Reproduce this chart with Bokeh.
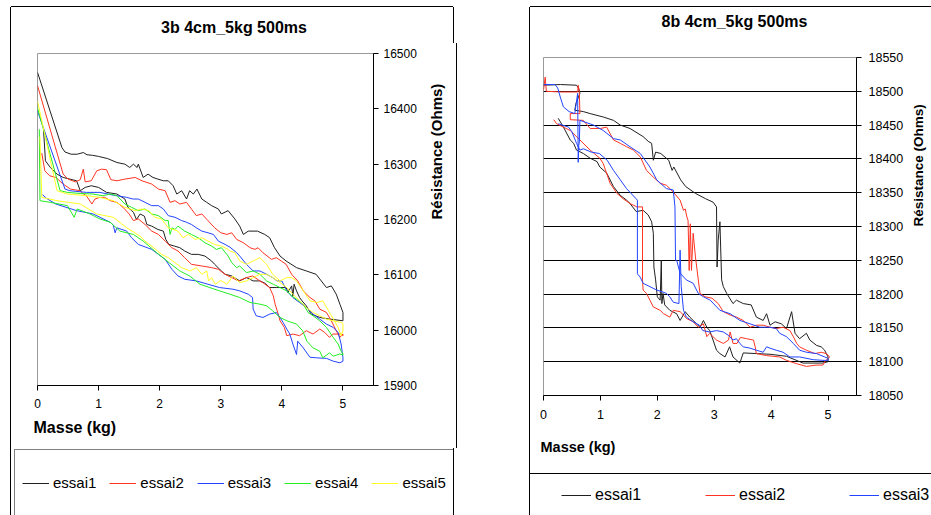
import math
from bokeh.plotting import figure
from bokeh.models import Range1d, FixedTicker, Legend, Spacer, ColumnDataSource, Title, Label
from bokeh.layouts import row, column
from bokeh.embed import file_html
from bokeh.resources import INLINE

FONT = "Liberation Sans"

# ---------------- axes / labels ----------------
masse_ticks = [0, 1, 2, 3, 4, 5]
res_ticks_3b = [15900, 16000, 16100, 16200, 16300, 16400, 16500]
res_ticks_8b = [18050, 18100, 18150, 18200, 18250, 18300, 18350, 18400, 18450, 18500, 18550]
grid_8b = [18100, 18150, 18200, 18250, 18300, 18350, 18400, 18450, 18500]
names_3b = ["essai1", "essai2", "essai3", "essai4", "essai5"]
names_8b = ["essai1", "essai2", "essai3"]
colors = ["#202020", "#FF3322", "#2244FF", "#22EE22", "#FFFF22"]
title_3b = "3b 4cm_5kg 500ms"
title_8b = "8b 4cm_5kg 500ms"
x_title = "Masse (kg)"
y_title = "Résistance (Ohms)"

# ---------------- 3b 4cm_5kg 500ms : (masse kg, résistance ohms), charge puis décharge ----------------
b3_essai1 = [(0, 16466), (0.4, 16330), (0.45, 16322), (0.55, 16318), (0.65, 16318), (0.75, 16321), (0.81, 16317),
             (0.9, 16316), (1.0, 16314), (1.15, 16310), (1.3, 16303), (1.43, 16300), (1.51, 16294), (1.57, 16300),
             (1.63, 16294), (1.65, 16300), (1.73, 16276), (1.81, 16282), (1.89, 16276), (1.97, 16273), (2.06, 16270),
             (2.14, 16270), (2.22, 16261), (2.28, 16246), (2.36, 16252), (2.44, 16237), (2.49, 16252), (2.55, 16246),
             (2.61, 16255), (2.69, 16237), (2.77, 16231), (2.85, 16225), (2.96, 16219), (3.01, 16210), (3.12, 16216),
             (3.23, 16201), (3.31, 16188), (3.37, 16173), (3.45, 16179), (3.6, 16179), (3.72, 16173), (3.8, 16167),
             (3.88, 16149), (3.97, 16134), (4.07, 16125), (4.24, 16113), (4.4, 16107), (4.56, 16101), (4.73, 16077),
             (4.81, 16080), (4.89, 16065), (4.95, 16047), (5.0, 16032),
             (5.0, 16017), (4.78, 16020), (4.62, 16023), (4.48, 16029), (4.4, 16044), (4.33, 16053), (4.29, 16059),
             (4.24, 16071), (4.2, 16083), (4.18, 16062), (4.16, 16080), (4.1, 16068), (4.07, 16077), (3.91, 16077),
             (3.8, 16077), (3.72, 16085), (3.64, 16089), (3.53, 16089), (3.42, 16095), (3.31, 16089), (3.18, 16098),
             (3.07, 16101), (3.01, 16107), (2.9, 16119), (2.85, 16125), (2.74, 16134), (2.63, 16137), (2.52, 16137),
             (2.41, 16143), (2.33, 16149), (2.24, 16152), (2.15, 16155), (2.1, 16164), (2.06, 16179), (1.97, 16182),
             (1.87, 16188), (1.79, 16191), (1.75, 16206), (1.68, 16210), (1.62, 16200), (1.57, 16213), (1.54, 16216),
             (1.48, 16222), (1.43, 16237), (1.3, 16246), (1.13, 16249), (1.0, 16258), (0.88, 16261), (0.78, 16258),
             (0.7, 16252), (0.64, 16270), (0.42, 16276), (0.32, 16282), (0.21, 16294), (0.13, 16306), (0.1, 16360)]

b3_essai2 = [(0, 16442), (0.42, 16282), (0.5, 16273), (0.62, 16268), (0.7, 16272), (0.75, 16291), (0.78, 16268),
             (0.88, 16270), (0.97, 16288), (1.05, 16291), (1.13, 16290), (1.2, 16272), (1.3, 16270), (1.43, 16273),
             (1.6, 16276), (1.71, 16270), (1.87, 16264), (1.98, 16255), (2.09, 16252), (2.17, 16231), (2.25, 16234),
             (2.33, 16228), (2.44, 16231), (2.52, 16219), (2.6, 16207), (2.69, 16210), (2.79, 16198), (2.9, 16185),
             (3.0, 16176), (3.1, 16173), (3.18, 16176), (3.26, 16164), (3.37, 16158), (3.48, 16149), (3.56, 16146),
             (3.61, 16149), (3.69, 16140), (3.83, 16128), (3.91, 16131), (3.99, 16125), (4.07, 16119), (4.16, 16101),
             (4.26, 16089), (4.35, 16071), (4.46, 16059), (4.54, 16053), (4.62, 16038), (4.73, 16032), (4.81, 16017),
             (4.89, 15999), (4.95, 15987), (5.0, 15993),
             (5.0, 15990), (4.97, 15993), (4.83, 15993), (4.78, 15987), (4.7, 15996), (4.62, 16002), (4.51, 15993),
             (4.4, 15999), (4.29, 15990), (4.18, 15993), (4.08, 15990), (4.04, 16005), (3.97, 16017), (3.94, 16029),
             (3.89, 16047), (3.86, 16062), (3.8, 16077), (3.7, 16085), (3.64, 16089), (3.52, 16098), (3.42, 16095),
             (3.29, 16089), (3.18, 16095), (3.07, 16101), (2.96, 16110), (2.85, 16113), (2.69, 16116), (2.52, 16119),
             (2.41, 16131), (2.3, 16143), (2.2, 16149), (2.09, 16161), (1.98, 16173), (1.87, 16179), (1.76, 16191),
             (1.65, 16201), (1.57, 16198), (1.5, 16210), (1.4, 16222), (1.3, 16231), (1.19, 16234), (1.1, 16240),
             (1.02, 16240), (0.94, 16237), (0.89, 16228), (0.8, 16243), (0.75, 16246), (0.7, 16252), (0.54, 16255),
             (0.42, 16264), (0.3, 16276), (0.2, 16279), (0.12, 16288), (0.07, 16320)]

b3_essai3 = [(0, 16396), (0.45, 16255), (0.53, 16252), (0.8, 16249), (1.02, 16249), (1.24, 16244), (1.46, 16240),
             (1.56, 16237), (1.65, 16237), (1.76, 16231), (1.87, 16225), (1.98, 16225), (2.06, 16219), (2.14, 16207),
             (2.25, 16204), (2.36, 16198), (2.44, 16195), (2.52, 16191), (2.6, 16185), (2.69, 16179), (2.79, 16176),
             (2.88, 16173), (2.96, 16161), (3.07, 16155), (3.15, 16150), (3.26, 16140), (3.31, 16134), (3.42, 16119),
             (3.53, 16107), (3.64, 16107), (3.75, 16101), (3.85, 16095), (3.92, 16089), (4.0, 16089), (4.08, 16071),
             (4.18, 16059), (4.29, 16050), (4.4, 16041), (4.51, 16029), (4.62, 16020), (4.73, 16011), (4.84, 16005),
             (4.92, 15996), (4.97, 15975), (5.0, 15950),
             (5.0, 15944), (4.95, 15941), (4.84, 15944), (4.73, 15949), (4.57, 15950), (4.46, 15951), (4.35, 15968),
             (4.26, 15980), (4.24, 15956), (4.18, 15975), (4.13, 15993), (4.08, 16002), (4.02, 16014), (3.97, 16023),
             (3.91, 16032), (3.8, 16029), (3.69, 16023), (3.58, 16026), (3.53, 16038), (3.52, 16059), (3.45, 16065),
             (3.31, 16071), (3.2, 16074), (2.98, 16077), (2.79, 16083), (2.6, 16089), (2.41, 16092), (2.3, 16098),
             (2.2, 16110), (2.09, 16128), (1.98, 16137), (1.87, 16146), (1.65, 16155), (1.54, 16167), (1.46, 16179),
             (1.3, 16185), (1.27, 16176), (1.24, 16190), (1.19, 16195), (0.91, 16210), (0.64, 16216), (0.3, 16228),
             (0.15, 16238), (0.08, 16245)]

b3_essai4 = [(0, 16402), (0.37, 16252), (0.49, 16249), (0.7, 16247), (0.91, 16246), (1.07, 16243), (1.19, 16246),
             (1.3, 16243), (1.43, 16228), (1.54, 16222), (1.65, 16216), (1.76, 16219), (1.87, 16210), (1.98, 16207),
             (2.09, 16198), (2.14, 16198), (2.17, 16173), (2.2, 16185), (2.25, 16182), (2.3, 16188), (2.41, 16179),
             (2.52, 16173), (2.63, 16167), (2.74, 16158), (2.85, 16152), (2.93, 16146), (3.01, 16149), (3.12, 16134),
             (3.18, 16122), (3.26, 16113), (3.31, 16116), (3.42, 16104), (3.53, 16107), (3.64, 16101), (3.75, 16089),
             (3.86, 16083), (3.97, 16077), (4.08, 16071), (4.16, 16062), (4.24, 16056), (4.35, 16047), (4.43, 16032),
             (4.51, 16026), (4.62, 16017), (4.73, 16005), (4.84, 15987), (4.92, 15975), (4.97, 15962), (5.0, 15957),
             (5.0, 15955), (4.95, 15957), (4.84, 15953), (4.78, 15959), (4.67, 15950), (4.62, 15962), (4.51, 15968),
             (4.41, 15980), (4.34, 15999), (4.24, 16011), (4.08, 16017), (3.97, 16023), (3.85, 16035), (3.75, 16044),
             (3.64, 16047), (3.48, 16050), (3.31, 16059), (3.15, 16065), (2.98, 16071), (2.82, 16077), (2.66, 16083),
             (2.49, 16098), (2.33, 16107), (2.12, 16125), (1.95, 16140), (1.73, 16161), (1.57, 16173), (1.35, 16179),
             (1.19, 16195), (1.02, 16201), (0.86, 16210), (0.65, 16219), (0.6, 16204), (0.49, 16225), (0.21, 16231),
             (0.04, 16234), (0.03, 16363)]

b3_essai5 = [(0, 16414), (0.32, 16252), (0.49, 16246), (0.81, 16243), (1.02, 16240), (1.24, 16234), (1.43, 16222),
             (1.6, 16216), (1.71, 16219), (1.82, 16216), (1.92, 16204), (2.03, 16201), (2.14, 16185), (2.3, 16179),
             (2.38, 16167), (2.47, 16173), (2.58, 16164), (2.69, 16167), (2.79, 16161), (2.9, 16155), (3.01, 16152),
             (3.12, 16146), (3.15, 16143), (3.23, 16140), (3.31, 16125), (3.42, 16119), (3.53, 16125), (3.64, 16131),
             (3.75, 16119), (3.85, 16101), (3.97, 16089), (4.08, 16095), (4.16, 16095), (4.24, 16089), (4.35, 16071),
             (4.46, 16053), (4.57, 16050), (4.67, 16053), (4.78, 16032), (4.86, 16017), (4.92, 16005), (4.97, 15990),
             (5.0, 15999),
             (5.0, 16012), (4.97, 16014), (4.84, 16017), (4.73, 16020), (4.62, 16026), (4.51, 16032), (4.4, 16041),
             (4.29, 16053), (4.18, 16065), (4.08, 16077), (3.97, 16086), (3.85, 16095), (3.75, 16101), (3.64, 16101),
             (3.53, 16095), (3.42, 16089), (3.31, 16086), (3.2, 16098), (3.1, 16083), (3.0, 16090), (2.91, 16083),
             (2.85, 16095), (2.8, 16089), (2.77, 16107), (2.69, 16101), (2.6, 16113), (2.5, 16107), (2.36, 16113),
             (2.25, 16122), (2.14, 16131), (2.03, 16137), (1.89, 16150), (1.76, 16161), (1.68, 16170), (1.46, 16185),
             (1.24, 16204), (0.97, 16210), (0.7, 16228), (0.32, 16234), (0.07, 16240), (0.04, 16350)]

# ---------------- 8b 4cm_5kg 500ms ----------------
b8_essai1 = [(0, 18509), (0.3, 18510), (0.58, 18509), (0.62, 18504), (0.64, 18497), (0.57, 18482), (0.55, 18472),
             (0.7, 18470), (0.82, 18467), (1.05, 18462), (1.23, 18457), (1.35, 18450), (1.52, 18445), (1.75, 18433),
             (1.84, 18426), (1.9, 18423), (1.93, 18398), (1.97, 18410), (2.06, 18408), (2.2, 18398), (2.26, 18383),
             (2.29, 18388), (2.41, 18369), (2.5, 18359), (2.67, 18349), (2.85, 18341), (2.98, 18336), (3.04, 18329),
             (3.05, 18240), (3.07, 18280), (3.1, 18307), (3.13, 18221), (3.16, 18211), (3.22, 18201), (3.33, 18186),
             (3.39, 18191), (3.51, 18186), (3.65, 18184), (3.74, 18166), (3.86, 18161), (3.92, 18171), (3.98, 18154),
             (4.07, 18159), (4.18, 18156), (4.27, 18149), (4.36, 18174), (4.42, 18142), (4.5, 18134), (4.62, 18142),
             (4.68, 18132), (4.8, 18124), (4.88, 18122), (4.94, 18117), (5.0, 18107),
             (5.0, 18100), (4.91, 18098), (4.56, 18098), (4.27, 18108), (3.98, 18111), (3.74, 18112), (3.51, 18113),
             (3.45, 18098), (3.33, 18107), (3.27, 18122), (3.19, 18107), (3.1, 18112), (3.04, 18117), (2.98, 18132),
             (2.92, 18146), (2.87, 18151), (2.81, 18161), (2.75, 18151), (2.69, 18156), (2.57, 18166), (2.49, 18174),
             (2.4, 18161), (2.34, 18171), (2.22, 18176), (2.13, 18184), (2.1, 18201), (2.08, 18186), (2.07, 18250),
             (2.05, 18191), (2.0, 18196), (1.97, 18221), (1.94, 18240), (1.93, 18290), (1.9, 18307), (1.84, 18317),
             (1.75, 18324), (1.63, 18322), (1.52, 18334), (1.46, 18339), (1.35, 18346), (1.23, 18359), (1.11, 18379),
             (0.99, 18388), (0.94, 18396), (0.82, 18401), (0.7, 18408), (0.58, 18413), (0.53, 18423), (0.47, 18428),
             (0.35, 18447), (0.26, 18460)]

b8_essai2 = [(0, 18502), (0.03, 18521), (0.05, 18500), (0.3, 18499), (0.6, 18499), (0.61, 18509), (0.63, 18497),
             (0.64, 18467), (0.47, 18467), (0.47, 18458), (0.7, 18457), (0.82, 18445), (1.0, 18445), (1.11, 18447),
             (1.23, 18428), (1.35, 18423), (1.46, 18418), (1.58, 18413), (1.7, 18403), (1.81, 18383), (1.93, 18373),
             (2.05, 18364), (2.16, 18361), (2.28, 18351), (2.4, 18339), (2.46, 18324), (2.49, 18326), (2.52, 18314),
             (2.54, 18309), (2.56, 18235), (2.58, 18304), (2.6, 18235), (2.63, 18290), (2.67, 18255), (2.72, 18221),
             (2.75, 18201), (2.84, 18196), (2.96, 18194), (3.07, 18186), (3.16, 18174), (3.28, 18169), (3.39, 18166),
             (3.51, 18161), (3.63, 18151), (3.74, 18154), (3.86, 18154), (3.98, 18151), (4.09, 18149), (4.21, 18151),
             (4.33, 18146), (4.39, 18137), (4.45, 18127), (4.5, 18122), (4.62, 18117), (4.77, 18112), (4.88, 18114),
             (4.97, 18112), (5.03, 18107),
             (4.95, 18101), (4.91, 18095), (4.79, 18095), (4.62, 18093), (4.45, 18097), (4.27, 18102), (4.15, 18107),
             (3.92, 18109), (3.74, 18112), (3.72, 18122), (3.69, 18132), (3.57, 18134), (3.46, 18136), (3.4, 18127),
             (3.33, 18127), (3.28, 18144), (3.25, 18132), (3.16, 18127), (3.04, 18132), (2.92, 18142), (2.87, 18137),
             (2.81, 18156), (2.72, 18151), (2.63, 18159), (2.51, 18164), (2.46, 18169), (2.4, 18174), (2.28, 18176),
             (2.22, 18166), (2.11, 18171), (2.05, 18176), (1.93, 18181), (1.87, 18191), (1.81, 18201), (1.75, 18206),
             (1.74, 18221), (1.74, 18329), (1.64, 18329), (1.52, 18334), (1.4, 18341), (1.29, 18349), (1.17, 18364),
             (1.05, 18393), (0.99, 18401), (0.82, 18413), (0.64, 18428), (0.47, 18442), (0.35, 18447), (0.23, 18452),
             (0.18, 18458)]

b8_essai3 = [(0, 18510), (0.2, 18510), (0.25, 18505), (0.3, 18490), (0.35, 18477), (0.45, 18470), (0.55, 18467),
             (0.6, 18497), (0.61, 18395), (0.62, 18420), (0.63, 18425), (0.64, 18457), (0.88, 18450), (1.05, 18442),
             (1.23, 18430), (1.35, 18428), (1.52, 18418), (1.7, 18408), (1.87, 18388), (1.99, 18369), (2.16, 18356),
             (2.28, 18354), (2.31, 18329), (2.32, 18250), (2.34, 18250), (2.4, 18231), (2.51, 18221), (2.63, 18216),
             (2.72, 18201), (2.81, 18196), (2.93, 18191), (3.1, 18176), (3.28, 18171), (3.45, 18161), (3.63, 18156),
             (3.8, 18151), (3.98, 18151), (4.09, 18149), (4.15, 18142), (4.27, 18137), (4.39, 18127), (4.5, 18117),
             (4.62, 18114), (4.8, 18112), (4.94, 18107), (5.0, 18105),
             (5.0, 18102), (4.91, 18102), (4.74, 18103), (4.5, 18107), (4.33, 18107), (4.21, 18114), (4.09, 18117),
             (3.98, 18120), (3.92, 18122), (3.86, 18114), (3.74, 18117), (3.63, 18120), (3.51, 18122), (3.45, 18127),
             (3.39, 18134), (3.33, 18132), (3.25, 18139), (3.16, 18144), (3.04, 18146), (2.92, 18144), (2.8, 18146),
             (2.74, 18154), (2.63, 18159), (2.51, 18166), (2.46, 18176), (2.42, 18211), (2.4, 18265), (2.38, 18186),
             (2.28, 18188), (2.22, 18196), (2.16, 18201), (2.1, 18203), (1.99, 18206), (1.87, 18211), (1.75, 18216),
             (1.7, 18225), (1.65, 18230), (1.65, 18339), (1.46, 18356), (1.35, 18369), (1.23, 18383), (1.12, 18398),
             (0.98, 18408), (0.84, 18410), (0.7, 18415), (0.64, 18413), (0.58, 18423), (0.5, 18440), (0.44, 18447),
             (0.26, 18452)]

series_3b = [b3_essai1, b3_essai2, b3_essai3, b3_essai4, b3_essai5]
series_8b = [b8_essai1, b8_essai2, b8_essai3]


def try_set(obj, **kw):
    for k, v in kw.items():
        try:
            setattr(obj, k, v)
        except Exception:
            pass


def bare_figure(w, h, shadow):
    f = figure(width=w, height=h, min_border=0, min_border_left=0, min_border_right=0,
               min_border_top=0, min_border_bottom=0, x_axis_type=None, y_axis_type=None,
               x_range=Range1d(0, w), y_range=Range1d(0, h), output_backend="svg", toolbar_location=None,
               outline_line_color=None, background_fill_color="white", border_fill_color="white",
               styles={"box-shadow": shadow})
    f.grid.visible = False
    f.title.text = ""
    f.title.standoff = 0
    try_set(f, frame_align=False)
    return f


def make_title(cfg, text):
    tf = bare_figure(cfg["w"], cfg["h"], cfg["shadow"])
    tf.add_layout(Label(x=cfg["cx"], y=cfg["h"] - cfg["cy"], text=text, text_font=FONT,
                        text_font_style="bold", text_font_size=cfg["size"], text_color="black",
                        text_align="center", text_baseline="middle"))
    return tf


def make_chart(cfg, sources):
    p = figure(frame_width=cfg["fw"], frame_height=cfg["fh"],
               min_border_left=cfg["left"], min_border_top=cfg["top"],
               min_border_right=cfg["right"], min_border_bottom=cfg["bottom"],
               x_range=Range1d(0, 5.5), y_range=Range1d(*cfg["yr"]),
               y_axis_location="right", output_backend="svg", toolbar_location=None,
               outline_line_color="#9a9a9a", outline_line_width=1,
               background_fill_color="white", border_fill_color="white",
               styles={"box-shadow": cfg["shadow"]})
    try_set(p, frame_align=False)
    p.title.text = ""
    p.title.standoff = 0
    # axes
    p.xaxis.ticker = FixedTicker(ticks=masse_ticks)
    p.yaxis.ticker = FixedTicker(ticks=cfg["yticks"])
    for ax in list(p.xaxis) + list(p.yaxis):
        ax.axis_line_color = "black"
        ax.axis_line_width = 1
        ax.major_tick_line_color = "black"
        ax.major_tick_in = 0
        ax.major_tick_out = 5
        ax.minor_tick_line_color = None
        ax.major_label_text_font = FONT
        ax.major_label_text_font_size = cfg["tick_size"]
        ax.major_label_text_color = "black"
    p.xaxis[0].major_label_standoff = cfg["x_lab_standoff"]
    ya = p.yaxis[0]
    ya.major_label_standoff = cfg["y_lab_standoff"]
    ya.axis_label = y_title
    ya.axis_label_text_font = FONT
    ya.axis_label_text_font_style = "bold"
    ya.axis_label_text_color = "black"
    ya.axis_label_text_font_size = cfg["y_title_size"]
    ya.axis_label_standoff = cfg["y_title_standoff"]
    try_set(ya, axis_label_orientation=math.pi / 2)
    # x title (below, left aligned)
    p.add_layout(Title(text=x_title, align="left", offset=cfg["x_title_offset"],
                       standoff=cfg["x_title_standoff"], text_font=FONT, text_font_style="bold",
                       text_font_size=cfg["x_title_size"], text_color="black"), "below")
    # grid
    p.xgrid.visible = False
    if cfg["grid"]:
        p.ygrid.ticker = FixedTicker(ticks=cfg["grid"])
        p.ygrid.grid_line_color = "black"
        p.ygrid.grid_line_width = 1
        p.ygrid.grid_line_alpha = 1
    else:
        p.ygrid.visible = False
    for src, col in zip(sources, colors):
        p.line("masse", "res", source=src, line_color=col, line_width=1)
    return p


def make_legend(cfg, names, sources):
    # legend strip: same series drawn in a pixel-space figure (they fall outside its view),
    # so only the legend samples show
    lf = bare_figure(cfg["w"], cfg["h"], cfg["shadow"])
    items = []
    for name, src, col in zip(names, sources, colors):
        r = lf.line("masse", "res", source=src, line_color=col, line_width=1)
        items.append((name, [r]))
    leg = Legend(items=items, location=cfg["loc"], orientation="horizontal", margin=0,
                 border_line_color=cfg["border"], border_line_width=1,
                 background_fill_color="white", background_fill_alpha=1 if cfg["border"] else 0,
                 padding=cfg["pad"], spacing=cfg["spacing"], label_standoff=4,
                 glyph_width=cfg["glyph"], glyph_height=16,
                 label_width=cfg["lw"], label_height=cfg["lh"],
                 label_text_font=FONT, label_text_font_size=cfg["size"],
                 label_text_color="black")
    lf.add_layout(leg)
    return lf


def sources_for(series):
    return [ColumnDataSource(dict(masse=[q[0] for q in pts], res=[q[1] for q in pts])) for pts in series]


src_3b = sources_for(series_3b)
src_8b = sources_for(series_8b)

SIDES_LR = "-1px 0 0 0 #000, 1px 0 0 0 #000"
SIDES_LRT = "-1px 0 0 0 #000, 1px 0 0 0 #000, 0 -1px 0 0 #000"
SIDE_L = "-1px 0 0 0 #000"
SIDES_LT = "-1px 0 0 0 #000, 0 -1px 0 0 #000"

title_cfg1 = dict(w=442, h=36, shadow=SIDES_LRT, cx=222.5, cy=20, size="16px")
title_cfg2 = dict(w=403, h=36, shadow=SIDES_LT, cx=204, cy=14, size="16px")

cfg1 = dict(fw=336, fh=332, left=26, top=10, right=80, bottom=63, yr=(15900, 16500),
            shadow=SIDES_LR, yticks=res_ticks_3b, grid=None, tick_size="12px",
            x_lab_standoff=8, x_title_size="16px", x_title_standoff=13, x_title_offset=-4,
            y_lab_standoff=5, y_title_size="15px", y_title_standoff=17)
cfg2 = dict(fw=313, fh=338, left=13, top=14, right=77, bottom=79, yr=(18050, 18550),
            shadow=SIDE_L, yticks=res_ticks_8b, grid=grid_8b, tick_size="12.5px",
            x_lab_standoff=9, x_title_size="14.5px", x_title_standoff=31, x_title_offset=-3,
            y_lab_standoff=7, y_title_size="13.5px", y_title_standoff=12)

leg_cfg1 = dict(w=442, h=67, shadow=SIDES_LR, loc=(3, -1), border="black",
                pad=7, spacing=13, glyph=27, lw=43, lh=51, size="15px")
leg_cfg2 = dict(w=403, h=41, shadow=SIDES_LT, loc=(31, 11), border=None,
                pad=12, spacing=63, glyph=30, lw=47, lh=18, size="16px")

panel1 = column(make_title(title_cfg1, title_3b), make_chart(cfg1, src_3b), make_legend(leg_cfg1, names_3b, src_3b))
panel2 = column(make_title(title_cfg2, title_8b), make_chart(cfg2, src_8b), make_legend(leg_cfg2, names_8b, src_8b))

layout = column(Spacer(width=10, height=7),
                row(Spacer(width=11, height=10), panel1, Spacer(width=74, height=10), panel2))
open("out.html", "w").write(file_html(layout, INLINE))
